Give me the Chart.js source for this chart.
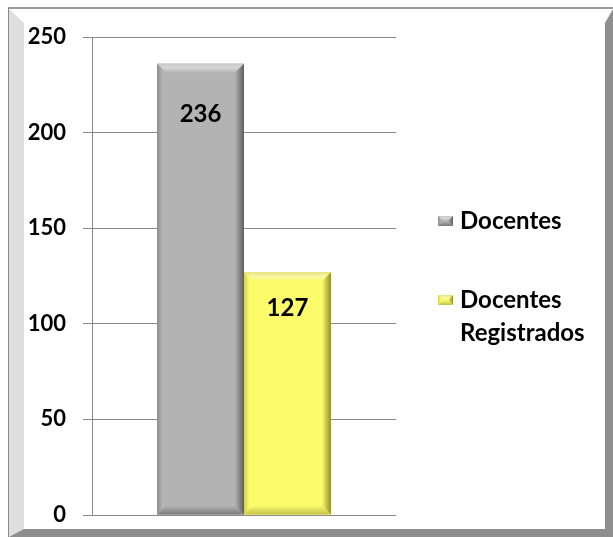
<!DOCTYPE html>
<html>
<head>
<meta charset="utf-8">
<script src="https://cdn.jsdelivr.net/npm/chart.js@4.4.0/dist/chart.umd.min.js"></script>
<style>
html,body{margin:0;padding:0;background:#fff;}
#wrap{position:relative;width:613px;height:537px;overflow:hidden;}
#outer{position:absolute;left:8px;top:7px;width:605px;height:530px;box-sizing:border-box;
border-top:2px solid #9a9a9a;border-left:1px solid #8a8a8a;}
#frame{position:absolute;left:0;top:0;right:0;bottom:0;box-sizing:border-box;
border-top:14px solid #fff;border-left:15px solid #dedede;border-right:8px solid #8e8e8e;border-bottom:8px solid #8e8e8e;}
#c{position:absolute;left:0;top:0;}
</style>
</head>
<body>
<div id="wrap">
<div id="outer"><div id="frame"></div></div>
<canvas id="c" width="613" height="537"></canvas>
</div>
<script>

// data
let categories = [""]
let seriesNames = ["Docentes","Docentes Registrados"]
let docentes = [236]
let registrados = [127]
let yTicks = [0,50,100,150,200,250]

let font = "Lato, 'Liberation Sans', sans-serif"

let barColors = [
{base:'#b3b3b3', edge:'#c8c8c8', top:'#d6d6d6', right:'#5e5e5e', bottom:'#7c7c7c', left:'#8e8e8e'},
{base:'#fbfb6c', edge:'#e0e080', top:'#f7f7a8', right:'#8f8f2e', bottom:'#c2c24a', left:'#d0d050'}
]

// labels inside the bars, offset below bar top
let labelOffset = [50,36]

function bevel(ctx,l,t,r,b,w,c){
  ctx.save()
  ctx.fillStyle = c.base
  ctx.fillRect(l,t,r-l,b-t)
  // top
  let g = ctx.createLinearGradient(0,t,0,t+w)
  g.addColorStop(0,c.edge)
  g.addColorStop(0.45,c.top)
  g.addColorStop(1,c.base)
  ctx.fillStyle = g
  ctx.beginPath();ctx.moveTo(l,t);ctx.lineTo(r,t);ctx.lineTo(r-w,t+w);ctx.lineTo(l+w,t+w);ctx.closePath();ctx.fill()
  // right
  g = ctx.createLinearGradient(r-w,0,r,0)
  g.addColorStop(0,c.base)
  g.addColorStop(1,c.right)
  ctx.fillStyle = g
  ctx.beginPath();ctx.moveTo(r,t);ctx.lineTo(r,b);ctx.lineTo(r-w,b-w);ctx.lineTo(r-w,t+w);ctx.closePath();ctx.fill()
  // bottom
  g = ctx.createLinearGradient(0,b-w,0,b)
  g.addColorStop(0,c.base)
  g.addColorStop(1,c.bottom)
  ctx.fillStyle = g
  ctx.beginPath();ctx.moveTo(l,b);ctx.lineTo(r,b);ctx.lineTo(r-w,b-w);ctx.lineTo(l+w,b-w);ctx.closePath();ctx.fill()
  // left
  g = ctx.createLinearGradient(l,0,l+w*0.6,0)
  g.addColorStop(0,c.left)
  g.addColorStop(1,c.base)
  ctx.fillStyle = g
  ctx.beginPath();ctx.moveTo(l,t);ctx.lineTo(l+w,t+w);ctx.lineTo(l+w,b-w);ctx.lineTo(l,b);ctx.closePath();ctx.fill()
  ctx.restore()
}

const barLook = {
  id:'barLook',
  afterDatasetsDraw(chart){
    let ctx = chart.ctx
    chart.data.datasets.forEach((ds,i)=>{
      let meta = chart.getDatasetMeta(i)
      meta.data.forEach(bar=>{
        let p = bar.getProps(['x','y','base','width'],true)
        let l = p.x-p.width/2, r = p.x+p.width/2
        bevel(ctx,l,p.y,r,p.base,9,barColors[i])
        ctx.save()
        ctx.fillStyle = '#000'
        ctx.font = "bold 24px "+font
        ctx.textAlign = 'center'
        ctx.textBaseline = 'middle'
        ctx.fillText(ds.data[0], p.x, p.y+labelOffset[i])
        ctx.restore()
      })
    })
  }
}

const sideLegend = {
  id:'sideLegend',
  afterDraw(chart){
    let ctx = chart.ctx
    ctx.save()
    ctx.font = "bold 24px "+font
    ctx.textBaseline = 'middle'
    ctx.fillStyle = '#000'
    let y = 221
    chart.data.datasets.forEach((ds,i)=>{
      bevel(ctx,438,y-5,453,y+5,5,barColors[i])
      let words = ds.label.split(' ')
      let lines = [], cur = ''
      words.forEach(w=>{
        let t = cur ? cur+' '+w : w
        if(ctx.measureText(t).width>140 && cur){lines.push(cur);cur=w}else cur=t
      })
      lines.push(cur)
      ctx.fillStyle = '#000'
      lines.forEach((ln,k)=>ctx.fillText(ln,460,y+k*33))
      y += lines.length*33+46
    })
    ctx.restore()
  }
}

new Chart(document.getElementById('c'),{
  type:'bar',
  data:{
    labels:categories,
    datasets:[
      {label:seriesNames[0],data:docentes,backgroundColor:barColors[0].base},
      {label:seriesNames[1],data:registrados,backgroundColor:barColors[1].base}
    ]
  },
  options:{
    responsive:false,
    animation:false,
    categoryPercentage:0.572,
    barPercentage:1,
    layout:{padding:{left:0,top:37,right:217,bottom:22}},
    plugins:{legend:{display:false},tooltip:{enabled:false}},
    scales:{
      x:{
        display:false
      },
      y:{
        min:0,max:250,
        afterBuildTicks(s){s.ticks = yTicks.map(v=>({value:v}))},
        grid:{color:'#8a8a8a',tickLength:9,drawTicks:true},
        border:{color:'#8a8a8a'},
        ticks:{color:'#000',padding:17,font:{family:font,size:22,weight:'bold'}},
        afterFit(s){s.width=92;s.paddingTop=0;s.paddingBottom=0}
      }
    }
  },
  plugins:[barLook,sideLegend]
})
</script>
</body>
</html>
